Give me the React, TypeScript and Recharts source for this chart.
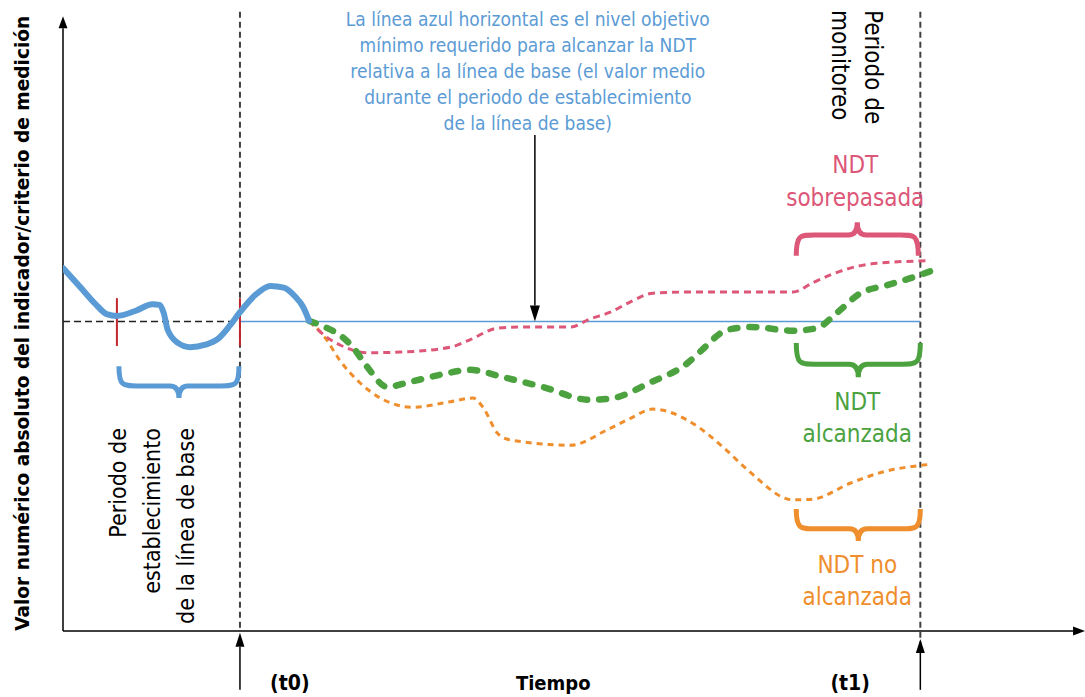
import { ComposedChart, Line, XAxis, YAxis, ReferenceLine, ReferenceDot } from 'recharts';

const FONT = "'Liberation Sans Narrow', 'DejaVu Sans Condensed', Roboto, sans-serif";

const BLUE = '#5B9BD5';
const RED = '#DC5778';
const GREEN = '#4BA23F';
const ORANGE = '#EF8E2C';
const DARK = '#404040';

// time runs 0..100, indicator value 0..100
const T0 = 17.4;
const T1 = 84.3;
const targetLevel = 50.5;

const baselineTime = [0, 1.7, 3.1, 4.3, 5.3, 7.1, 8.8, 9.5, 9.9, 10.3, 11.3, 12.5, 14.0, 15.2, 16.4, 17.4, 18.9, 20.4, 21.7, 22.8, 23.6, 24.2];
const baselineValue = [59.2, 56.1, 53.5, 51.7, 51.4, 52.2, 53.3, 53.2, 51.9, 49.1, 47.0, 46.3, 46.7, 47.6, 49.8, 52.0, 54.8, 56.3, 56.0, 54.6, 52.9, 50.6];

const exceededTime = [24.2, 25.8, 27.2, 29.9, 33.1, 38.1, 40.0, 42.7, 45.2, 49.9, 51.8, 53.8, 55.8, 58.0, 61.7, 71.8, 73.7, 77.4, 80.0, 85.3];
const exceededValue = [50.6, 48.1, 46.7, 45.4, 45.5, 46.3, 47.5, 49.4, 49.6, 49.6, 50.9, 52.0, 53.7, 55.1, 55.3, 55.3, 56.8, 59.2, 60.0, 60.4];

const reachedTime = [24.2, 26.0, 27.2, 28.5, 29.9, 31.9, 33.8, 37.1, 40.0, 43.3, 47.2, 51.8, 54.1, 57.7, 61.4, 62.6, 65.3, 67.6, 71.8, 74.1, 76.1, 78.4, 81.0, 83.6, 85.3];
const reachedValue = [50.6, 49.4, 48.3, 46.3, 43.1, 39.8, 40.5, 41.8, 42.6, 41.4, 39.8, 37.7, 38.0, 40.5, 43.7, 45.5, 49.1, 49.6, 49.0, 49.4, 51.9, 55.1, 56.4, 57.7, 58.7];

const missedTime = [24.2, 25.8, 27.2, 29.2, 31.2, 34.4, 38.1, 40.3, 41.3, 42.7, 43.9, 49.9, 53.5, 55.8, 58.0, 61.9, 64.9, 67.3, 71.8, 73.7, 77.4, 80.3, 85.3];
const missedValue = [50.6, 47.8, 44.2, 40.5, 38.0, 36.5, 37.4, 38.0, 36.5, 32.3, 31.2, 30.3, 32.8, 34.7, 36.2, 33.9, 30.0, 26.3, 21.4, 21.5, 24.1, 25.8, 27.2];

const toPoints = (ts: number[], vs: number[]) => ts.map((t, i) => ({ t, v: vs[i] }));

const baselineData = toPoints(baselineTime, baselineValue);
const exceededData = toPoints(exceededTime, exceededValue);
const reachedData = toPoints(reachedTime, reachedValue);
const missedData = toPoints(missedTime, missedValue);

const arrowShape = (head: number, half: number, width: number) => (p: any) => {
  const { x1, y1, x2, y2 } = p;
  const a = Math.atan2(y2 - y1, x2 - x1);
  const bx = x2 - head * Math.cos(a);
  const by = y2 - head * Math.sin(a);
  const nx = -Math.sin(a) * half;
  const ny = Math.cos(a) * half;
  return (
    <g>
      <line x1={x1} y1={y1} x2={bx} y2={by} stroke="#000" strokeWidth={width} />
      <polygon points={`${x2},${y2} ${bx + nx},${by + ny} ${bx - nx},${by - ny}`} fill="#000" />
    </g>
  );
};

// ends at y1, tip at y2
const braceShape = (color: string) => (p: any) => {
  const { x1, y1, x2, y2 } = p;
  const xl = Math.min(x1, x2);
  const xr = Math.max(x1, x2);
  const xm = (xl + xr) / 2;
  const ym = y1 + (y2 - y1) * 0.62;
  const r = 18;
  const c = 9;
  const d = `M${xl},${y1} C${xl},${ym} ${xl + 4},${ym} ${xl + r},${ym} L${xm - c},${ym} Q${xm},${ym} ${xm},${y2} Q${xm},${ym} ${xm + c},${ym} L${xr - r},${ym} C${xr - 4},${ym} ${xr},${ym} ${xr},${y1}`;
  return <path d={d} fill="none" stroke={color} strokeWidth={5} />;
};

type TextOpts = { size: number; color: string; gap?: number; rotate?: number; anchor?: string; weight?: string; length?: number };

const textShape = (lines: string[], o: TextOpts) => (p: any) => {
  const { cx, cy } = p;
  return (
    <text
      transform={`translate(${cx},${cy}) rotate(${o.rotate ?? 0})`}
      fontFamily={FONT}
      fontSize={o.size}
      fill={o.color}
      textAnchor={o.anchor ?? 'middle'}
      fontWeight={o.weight ?? 'normal'}
      dominantBaseline="central"
    >
      {lines.map((l, i) => (
        <tspan
          key={i}
          x={0}
          y={i * (o.gap ?? 0)}
          {...(o.length ? { textLength: o.length, lengthAdjust: 'spacingAndGlyphs' } : {})}
        >
          {l}
        </tspan>
      ))}
    </text>
  );
};

export default function App() {
  return (
    <div style={{ position: 'absolute', left: 0, top: 0, background: '#fff' }}>
      <ComposedChart width={1085} height={697} margin={{ top: 18, right: 5, bottom: 66, left: 63 }}>
        <XAxis type="number" dataKey="t" domain={[0, 100]} hide allowDataOverflow />
        <YAxis type="number" dataKey="v" domain={[0, 100]} hide allowDataOverflow />

        {/* axes */}
        <ReferenceLine segment={[{ x: 0, y: 0 }, { x: 0, y: 100.3 }]} ifOverflow="visible" shape={arrowShape(12, 4.5, 1.5)} />
        <ReferenceLine segment={[{ x: 0, y: 0 }, { x: 100.5, y: 0 }]} ifOverflow="visible" shape={arrowShape(12, 4.5, 1.5)} />

        {/* t0 / t1 */}
        <ReferenceLine segment={[{ x: T0, y: 101 }, { x: T0, y: 0 }]} ifOverflow="visible" stroke={DARK} strokeWidth={2} strokeDasharray="6 4" />
        <ReferenceLine segment={[{ x: T1, y: 101 }, { x: T1, y: -3 }]} ifOverflow="visible" stroke={DARK} strokeWidth={2} strokeDasharray="6 4" />
        <ReferenceLine segment={[{ x: T0, y: -9.6 }, { x: T0, y: -0.3 }]} ifOverflow="visible" shape={arrowShape(14, 4.5, 1.5)} />
        <ReferenceLine segment={[{ x: T1, y: -9.6 }, { x: T1, y: -1.3 }]} ifOverflow="visible" shape={arrowShape(14, 4.5, 1.5)} />

        {/* baseline mean and target level */}
        <ReferenceLine segment={[{ x: 0, y: targetLevel }, { x: T0, y: targetLevel }]} ifOverflow="visible" stroke="#222" strokeWidth={1.5} strokeDasharray="7 4" />
        <ReferenceLine segment={[{ x: T0, y: targetLevel }, { x: T1, y: targetLevel }]} ifOverflow="visible" stroke={BLUE} strokeWidth={1.5} />

        {/* baseline period markers */}
        <ReferenceLine segment={[{ x: 5.3, y: 54.3 }, { x: 5.3, y: 46.5 }]} ifOverflow="visible" stroke="#C0262B" strokeWidth={2} />
        <ReferenceLine segment={[{ x: T0, y: 54.3 }, { x: T0, y: 46.5 }]} ifOverflow="visible" stroke="#C0262B" strokeWidth={2} />

        <Line data={missedData} dataKey="v" type="monotone" stroke={ORANGE} strokeWidth={3} strokeDasharray="6 5" dot={false} isAnimationActive={false} />
        <Line data={exceededData} dataKey="v" type="monotone" stroke={RED} strokeWidth={3} strokeDasharray="7 5" dot={false} isAnimationActive={false} />
        <Line data={reachedData} dataKey="v" type="monotone" stroke={GREEN} strokeWidth={6.5} strokeDasharray="7 12" strokeLinecap="round" dot={false} isAnimationActive={false} />
        <Line data={baselineData} dataKey="v" type="monotone" stroke={BLUE} strokeWidth={6} strokeLinecap="round" dot={false} isAnimationActive={false} />

        {/* braces */}
        <ReferenceLine segment={[{ x: 5.5, y: 43.2 }, { x: 17.3, y: 38.0 }]} ifOverflow="visible" shape={braceShape(BLUE)} />
        <ReferenceLine segment={[{ x: 72.1, y: 61.2 }, { x: 84.1, y: 66.7 }]} ifOverflow="visible" shape={braceShape(RED)} />
        <ReferenceLine segment={[{ x: 72.1, y: 47.0 }, { x: 84.3, y: 41.4 }]} ifOverflow="visible" shape={braceShape(GREEN)} />
        <ReferenceLine segment={[{ x: 72.1, y: 19.9 }, { x: 84.3, y: 14.7 }]} ifOverflow="visible" shape={braceShape(ORANGE)} />

        {/* annotation arrow */}
        <ReferenceLine segment={[{ x: 46.4, y: 80.9 }, { x: 46.4, y: targetLevel }]} ifOverflow="visible" shape={arrowShape(16, 5, 1.5)} />

        {/* texts */}
        <ReferenceDot x={-4.0} y={50.2} r={0} ifOverflow="visible"
          shape={textShape(['Valor numérico absoluto del indicador/criterio de medición'], { size: 19.5, color: '#000', rotate: -90, weight: 'bold', length: 615 })} />
        <ReferenceDot x={45.7} y={99.8} r={0} ifOverflow="visible"
          shape={textShape([
            'La línea azul horizontal es el nivel objetivo',
            'mínimo requerido para alcanzar la NDT',
            'relativa a la línea de base (el valor medio',
            'durante el periodo de establecimiento',
            'de la línea de base)',
          ], { size: 19, color: BLUE, gap: 26 })} />
        <ReferenceDot x={79.6} y={101.3} r={0} ifOverflow="visible"
          shape={textShape(['Periodo de', 'monitoreo'], { size: 24, color: '#000', gap: 33, rotate: 90, anchor: 'start' })} />
        <ReferenceDot x={5.4} y={33.1} r={0} ifOverflow="visible"
          shape={textShape(['Periodo de', 'establecimiento', 'de la línea de base'], { size: 23, color: '#000', gap: 34, rotate: -90, anchor: 'end' })} />
        <ReferenceDot x={77.9} y={76.0} r={0} ifOverflow="visible"
          shape={textShape(['NDT', 'sobrepasada'], { size: 24, color: RED, gap: 33 })} />
        <ReferenceDot x={78.1} y={37.4} r={0} ifOverflow="visible"
          shape={textShape(['NDT', 'alcanzada'], { size: 24, color: GREEN, gap: 32 })} />
        <ReferenceDot x={78.1} y={10.8} r={0} ifOverflow="visible"
          shape={textShape(['NDT no', 'alcanzada'], { size: 24, color: ORANGE, gap: 32 })} />
        <ReferenceDot x={22.3} y={-8.5} r={0} ifOverflow="visible"
          shape={textShape(['(t0)'], { size: 21, color: '#000', weight: 'bold' })} />
        <ReferenceDot x={48.2} y={-8.5} r={0} ifOverflow="visible"
          shape={textShape(['Tiempo'], { size: 20, color: '#000', weight: 'bold' })} />
        <ReferenceDot x={77.4} y={-8.5} r={0} ifOverflow="visible"
          shape={textShape(['(t1)'], { size: 21, color: '#000', weight: 'bold' })} />
      </ComposedChart>
    </div>
  );
}
